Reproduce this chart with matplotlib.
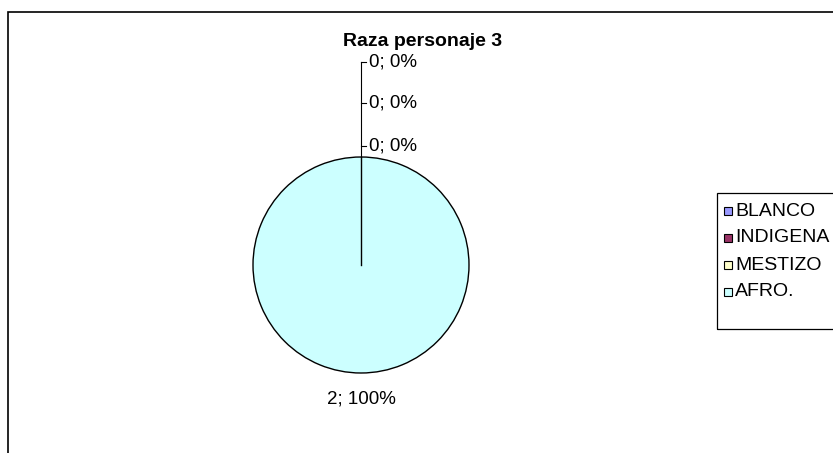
import numpy as np
import matplotlib
matplotlib.use("Agg")
import matplotlib.pyplot as plt
from matplotlib.patches import Rectangle

plt.rcParams['font.family'] = ['Liberation Sans', 'DejaVu Sans']

# data
categories = ["BLANCO", "INDIGENA", "MESTIZO", "AFRO."]
values = [0, 0, 0, 2]
colors = ["#9999FF", "#993366", "#FFFFCC", "#CCFFFF"]
title = "Raza personaje 3"

W, H = 833, 453
fig = plt.figure(figsize=(W / 100, H / 100), dpi=100)
ax = fig.add_axes([0, 0, 1, 1])

cx, cy, r = 361, H - 265, 108
wedges, _ = ax.pie(values, colors=colors, startangle=90, counterclock=False,
                   center=(cx, cy), radius=r,
                   wedgeprops=dict(edgecolor="black", linewidth=1.0))
# pie() resets the limits, so set them afterwards
ax.set_xlim(0, W)
ax.set_ylim(0, H)
ax.set_aspect("equal")
ax.axis("off")

# outer chart border (runs off the right/bottom edge like the original)
ax.add_patch(Rectangle((8, -20), 900, H - 12 + 20, fill=False,
                       edgecolor="black", linewidth=1.2, clip_on=False))

# edge of the zero slices at 12 o'clock
ax.plot([cx, cx], [cy, cy + r], color="black", lw=1.0)

total = sum(values)
labels = ["%d; %d%%" % (v, round(100 * v / total)) for v in values]

# zero slices get stacked above the pie with a leader line
zero_y = [H - 146, H - 103, H - 62]
k = 0
for lab, v in zip(labels, values):
    if v == 0:
        y = zero_y[k]
        k += 1
        ax.plot([cx, cx + 5], [y, y], color="black", lw=0.8)
        ax.text(cx + 8, y, lab, fontsize=13.5, va="center", ha="left")
if k:
    ax.plot([cx, cx], [cy + r, zero_y[k - 1]], color="black", lw=0.8)

# label of the full slice, below the pie
for w, lab, v in zip(wedges, labels, values):
    if v > 0:
        ang = np.deg2rad((w.theta1 + w.theta2) / 2)
        d = r + 26
        ax.text(cx + d * np.cos(ang), cy + d * np.sin(ang), lab,
                fontsize=13.5, ha="center", va="center")

ax.text(343, H - 42, title, fontsize=14, fontweight="bold", ha="left", va="center")

# legend box, drawn by hand so it can run off the right edge
ax.add_patch(Rectangle((717, H - 329), 200, 136, fill=False,
                       edgecolor="black", linewidth=0.9, clip_on=False))
for i, (name, c) in enumerate(zip(categories, colors)):
    y = H - (211 + 27 * i)
    ax.add_patch(Rectangle((724, y - 4), 8, 8, facecolor=c,
                           edgecolor="black", linewidth=0.8))
    ax.text(735, y, name, fontsize=14, ha="left", va="center")

fig.savefig("out.png", dpi=100)
